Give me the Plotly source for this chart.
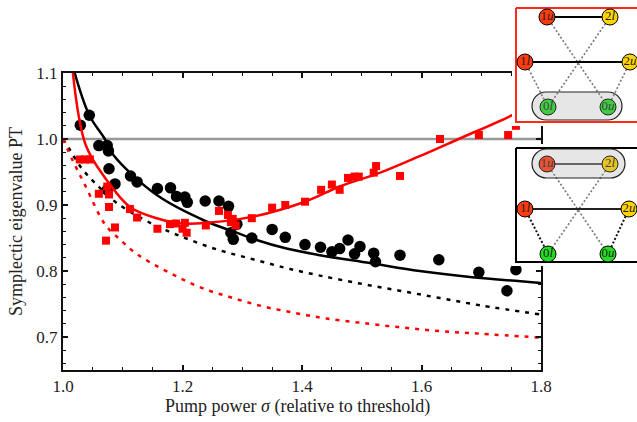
import plotly.graph_objects as go

# ---------- data ----------
black_x = [1.029,1.044,1.060,1.074,1.076,1.077,1.087,1.074,1.113,1.124,1.158,1.180,1.190,1.204,1.208,1.238,1.261,1.277,1.291,1.281,1.285,1.316,1.350,1.372,1.405,1.431,1.450,1.463,1.477,1.497,1.488,1.520,1.523,1.564,1.629,1.696,1.743,1.758]
black_y = [1.021,1.036,0.990,0.990,0.982,0.955,0.932,0.923,0.944,0.935,0.925,0.926,0.913,0.912,0.904,0.906,0.906,0.898,0.871,0.858,0.848,0.850,0.863,0.851,0.840,0.836,0.829,0.834,0.847,0.837,0.826,0.827,0.814,0.824,0.817,0.798,0.770,0.802]
red_x = [1.028,1.037,1.045,1.074,1.060,1.077,1.077,1.087,1.072,1.112,1.124,1.158,1.179,1.189,1.204,1.200,1.207,1.239,1.261,1.276,1.284,1.281,1.289,1.316,1.350,1.372,1.405,1.432,1.450,1.463,1.477,1.488,1.495,1.520,1.524,1.564,1.631,1.696,1.745,1.758]
red_y = [0.969,0.969,0.969,0.928,0.917,0.916,0.897,0.866,0.846,0.894,0.881,0.864,0.871,0.872,0.873,0.864,0.858,0.869,0.891,0.885,0.879,0.874,0.869,0.880,0.896,0.900,0.905,0.923,0.931,0.923,0.941,0.943,0.943,0.949,0.959,0.944,1.000,1.006,1.006,1.020]

black_curve_x = [1.018,1.044,1.070,1.084,1.157,1.240,1.285,1.324,1.374,1.430,1.514,1.597,1.681,1.800]
black_curve_y = [1.105,1.036,1.000,0.976,0.915,0.875,0.860,0.847,0.834,0.824,0.812,0.800,0.791,0.782]
red_curve_x = [1.016,1.038,1.073,1.112,1.157,1.201,1.240,1.316,1.405,1.463,1.531,1.597,1.662,1.756,1.770]
red_curve_y = [1.105,0.991,0.938,0.897,0.880,0.872,0.873,0.882,0.905,0.928,0.949,0.974,1.000,1.038,1.046]
black_dash_x = [1.000,1.012,1.031,1.054,1.090,1.148,1.182,1.213,1.246,1.279,1.313,1.346,1.380,1.430,1.497,1.564,1.631,1.698,1.800]
black_dash_y = [1.000,0.983,0.956,0.933,0.903,0.872,0.858,0.847,0.836,0.827,0.819,0.811,0.803,0.793,0.781,0.770,0.759,0.748,0.734]
red_dash_x = [1.000,1.017,1.037,1.070,1.095,1.120,1.148,1.179,1.210,1.242,1.274,1.307,1.341,1.374,1.408,1.441,1.494,1.561,1.631,1.698,1.800]
red_dash_y = [1.000,0.966,0.930,0.871,0.848,0.828,0.812,0.797,0.783,0.771,0.762,0.753,0.745,0.739,0.733,0.728,0.722,0.715,0.709,0.705,0.699]
threshold_x = [1.0, 1.8]
threshold_y = [1.0, 1.0]

x_ticks = [1.0, 1.2, 1.4, 1.6, 1.8]
y_ticks = [0.7, 0.8, 0.9, 1.0, 1.1]

node_labels = ["1<i>u</i>", "2<i>l</i>", "1<i>l</i>", "2<i>u</i>", "0<i>l</i>", "0<i>u</i>"]
node_colors = ["#FF3B0F", "#FFD400", "#FF3B0F", "#FFD400", "#22DD22", "#22DD22"]
inset1_nx = [547, 610, 525, 630, 548, 608]
inset1_ny = [17, 17, 62, 62, 107, 107]
inset2_nx = [547, 610, 525, 629, 548, 608]
inset2_ny = [164, 164, 209, 209, 254, 254]

W, H = 637, 422
SERIF = "Liberation Serif"
INK = "#222222"

fig = go.Figure()

# ---------- main panel ----------
fig.add_trace(go.Scatter(x=threshold_x, y=threshold_y, mode="lines", line=dict(color="#999999", width=2.5)))
fig.add_trace(go.Scatter(x=black_dash_x, y=black_dash_y, mode="lines", line=dict(color="black", width=2.5, dash="4px,6px", shape="spline", smoothing=1)))
fig.add_trace(go.Scatter(x=red_dash_x, y=red_dash_y, mode="lines", line=dict(color="#FF0000", width=2.5, dash="4px,6px", shape="spline", smoothing=1)))
fig.add_trace(go.Scatter(x=black_curve_x, y=black_curve_y, mode="lines", line=dict(color="black", width=2.5, shape="spline", smoothing=1)))
fig.add_trace(go.Scatter(x=black_x, y=black_y, mode="markers", marker=dict(color="black", size=11.5, symbol="circle")))
fig.add_trace(go.Scatter(x=red_curve_x, y=red_curve_y, mode="lines", line=dict(color="#FF0000", width=2.5, shape="spline", smoothing=1)))
fig.add_trace(go.Scatter(x=red_x, y=red_y, mode="markers", marker=dict(color="#FF0000", size=8, symbol="square")))


def panel_axes(n, top, bottom):
    return {
        f"xaxis{n}": dict(domain=[512 / W, 1], range=[512, 637], visible=False, fixedrange=True),
        f"yaxis{n}": dict(domain=[(H - bottom) / H, (H - top) / H], range=[bottom, top], visible=False, fixedrange=True, anchor=f"x{n}"),
    }


def add_inset(n, nx, ny, frame_color, frame_top, frame_bottom, rung_colors, side_style, cross_color):
    xa, ya = f"x{n}", f"y{n}"
    fig.add_trace(go.Scatter(x=[516, 650, 650, 516, 516], y=[frame_top, frame_top, frame_bottom, frame_bottom, frame_top],
                             mode="lines", fill="toself", fillcolor="white", line=dict(color=frame_color, width=2), xaxis=xa, yaxis=ya))
    # crossing transitions
    for a, b in [(0, 5), (1, 4)]:
        fig.add_trace(go.Scatter(x=[nx[a], nx[b]], y=[ny[a], ny[b]], mode="lines",
                                 line=dict(color=cross_color, width=1.6, dash="2px,2px"), xaxis=xa, yaxis=ya))
    # side transitions
    for a, b in [(2, 4), (3, 5)]:
        fig.add_trace(go.Scatter(x=[nx[a], nx[b]], y=[ny[a], ny[b]], mode="lines",
                                 line=dict(color=side_style[0], width=side_style[1], dash="2px,2px"), xaxis=xa, yaxis=ya))
    # rungs
    for (a, b), col in zip([(0, 1), (2, 3)], rung_colors):
        fig.add_trace(go.Scatter(x=[nx[a], nx[b]], y=[ny[a], ny[b]], mode="lines",
                                 line=dict(color=col, width=2), xaxis=xa, yaxis=ya))
    fig.add_trace(go.Scatter(x=nx, y=ny, mode="markers+text", text=node_labels, textposition="middle center",
                             textfont=dict(family=SERIF, size=13, color=INK),
                             marker=dict(color=node_colors, size=16, line=dict(color="black", width=1)),
                             xaxis=xa, yaxis=ya))


add_inset(2, inset1_nx, inset1_ny, "#FF2A1A", 8, 122, ["black", "black"], ("#777777", 1.6), "#777777")
add_inset(3, inset2_nx, inset2_ny, "black", 148, 262, ["#555555", "#222222"], ("#111111", 2), "#777777")


def pill(n, x0, x1, y0, y1):
    r = (y1 - y0) / 2
    k = 0.55 * r
    ym = (y0 + y1) / 2
    path = (f"M {x0+r} {y0} L {x1-r} {y0} C {x1-r+k} {y0} {x1} {ym-k} {x1} {ym} "
            f"C {x1} {ym+k} {x1-r+k} {y1} {x1-r} {y1} L {x0+r} {y1} "
            f"C {x0+r-k} {y1} {x0} {ym+k} {x0} {ym} C {x0} {ym-k} {x0+r-k} {y0} {x0+r} {y0} Z")
    return dict(type="path", path=path, xref=f"x{n}", yref=f"y{n}", layer="above",
                fillcolor="rgba(155,155,155,0.25)", line=dict(color="#222222", width=1.2))


layout_axes = {}
layout_axes.update(panel_axes(2, 4, 126))
layout_axes.update(panel_axes(3, 144, 266))

fig.update_layout(
    width=W, height=H, showlegend=False,
    margin=dict(l=0, r=0, t=0, b=0, autoexpand=False),
    paper_bgcolor="white", plot_bgcolor="white",
    font=dict(family=SERIF, size=17, color=INK),
    xaxis=dict(domain=[63 / W, 541 / W], range=[1.0, 1.8], tickvals=x_ticks, tickformat=".1f",
               ticks="inside", ticklen=5, tickwidth=1.5, tickcolor="#111111",
               minor=dict(dtick=0.05, tick0=1.0, ticks="inside", ticklen=3, tickwidth=1.2, tickcolor="#111111"),
               showline=True, linecolor="#111111", linewidth=2, mirror="ticks", showgrid=False, zeroline=False,
               tickfont=dict(size=17), fixedrange=True),
    yaxis=dict(domain=[(H - 370) / H, (H - 73) / H], range=[0.65, 1.1], tickvals=y_ticks, tickformat=".1f",
               ticks="inside", ticklen=5, tickwidth=1.5, tickcolor="#111111",
               minor=dict(dtick=0.02, tick0=0.64, ticks="inside", ticklen=3, tickwidth=1.2, tickcolor="#111111"),
               showline=True, linecolor="#111111", linewidth=2, mirror="ticks", showgrid=False, zeroline=False,
               tickfont=dict(size=17), fixedrange=True),
    shapes=[pill(2, 532, 622, 92, 120), pill(3, 532, 625, 149, 178)],
    annotations=[
        dict(text="Pump power <i>σ</i> (relative to threshold)", xref="paper", yref="paper",
             x=297 / W, y=(H - 406) / H, showarrow=False, xanchor="center", yanchor="middle",
             font=dict(family=SERIF, size=18, color=INK)),
        dict(text="Symplectic eigenvalue PT", xref="paper", yref="paper", textangle=-90,
             x=16 / W, y=(H - 222) / H, showarrow=False, xanchor="center", yanchor="middle",
             font=dict(family=SERIF, size=18, color=INK)),
    ],
    **layout_axes,
)

fig.write_html("out.html", config={"displayModeBar": False},
               post_script="document.body.style.margin='0';document.body.style.overflow='hidden';")
